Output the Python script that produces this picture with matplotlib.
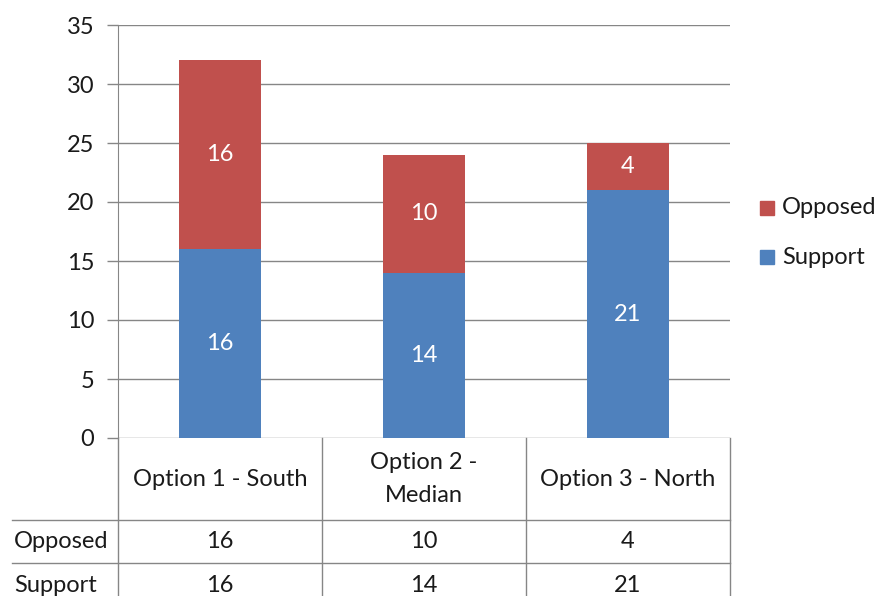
import matplotlib.pyplot as plt
from matplotlib.patches import Rectangle

plt.rcParams['font.family'] = ['Lato', 'DejaVu Sans']

categories = ["Option 1 - South", "Option 2 -\nMedian", "Option 3 - North"]
support = [16, 14, 21]
opposed = [16, 10, 4]
series_names = ["Opposed", "Support"]

red = "#C0504D"
blue = "#4F81BD"
grid_col = "#868686"
txt = "#1a1a1a"
fs = 17

W, H = 882, 596
fig = plt.figure(figsize=(W / 100, H / 100), dpi=100)

# plot area in pixel terms
left, right, top, bottom = 118, 730, 25, 438
ax = fig.add_axes([left / W, 1 - bottom / H, (right - left) / W, (bottom - top) / H])

x = range(len(categories))
ax.bar(x, support, width=0.4, color=blue, zorder=3)
ax.bar(x, opposed, width=0.4, bottom=support, color=red, zorder=3)

for i in x:
    ax.text(i, support[i] / 2, str(support[i]), ha="center", va="center",
            color="white", fontsize=fs, zorder=4)
    ax.text(i, support[i] + opposed[i] / 2, str(opposed[i]), ha="center", va="center",
            color="white", fontsize=fs, zorder=4)

ax.set_xlim(-0.5, len(categories) - 0.5)
ax.set_ylim(0, 35)
ax.set_yticks(range(0, 36, 5))
ax.set_xticks([])
ax.yaxis.grid(True, color=grid_col, linewidth=1)
ax.set_axisbelow(True)
for s in ["top", "right", "bottom"]:
    ax.spines[s].set_visible(False)
ax.spines["left"].set_color(grid_col)
ax.tick_params(axis="y", length=8, color=grid_col, width=1, pad=9,
               labelsize=fs, labelcolor=txt)

# overlay in pixel coordinates for the data table and legend
ov = fig.add_axes([0, 0, 1, 1], facecolor="none")
ov.set_xlim(0, W)
ov.set_ylim(H, 0)
ov.axis("off")

col_w = (right - left) / len(categories)
row_lines = [520, 563]
lc = dict(color=grid_col, linewidth=1)
ov.plot([left, left], [bottom, H], **lc)
for k in range(1, len(categories) + 1):
    ov.plot([left + k * col_w] * 2, [bottom, H], **lc)
for yl in row_lines:
    ov.plot([12, right], [yl, yl], **lc)

for i, c in enumerate(categories):
    cx = left + (i + 0.5) * col_w
    ov.text(cx, 479, c, ha="center", va="center", fontsize=fs, color=txt,
            linespacing=1.65)
    ov.text(cx, 542, str(opposed[i]), ha="center", va="center", fontsize=fs, color=txt)
    ov.text(cx, 585, str(support[i]), ha="center", va="center", fontsize=fs, color=txt)
ov.text(14, 542, series_names[0], ha="left", va="center", fontsize=fs, color=txt)
ov.text(14, 585, series_names[1], ha="left", va="center", fontsize=fs, color=txt)

# legend
for name, col, yc in [(series_names[0], red, 208), (series_names[1], blue, 257)]:
    ov.add_patch(Rectangle((760, yc - 7), 14, 14, color=col))
    ov.text(782, yc, name, ha="left", va="center", fontsize=fs, color=txt)

fig.savefig("out.png", dpi=100)
